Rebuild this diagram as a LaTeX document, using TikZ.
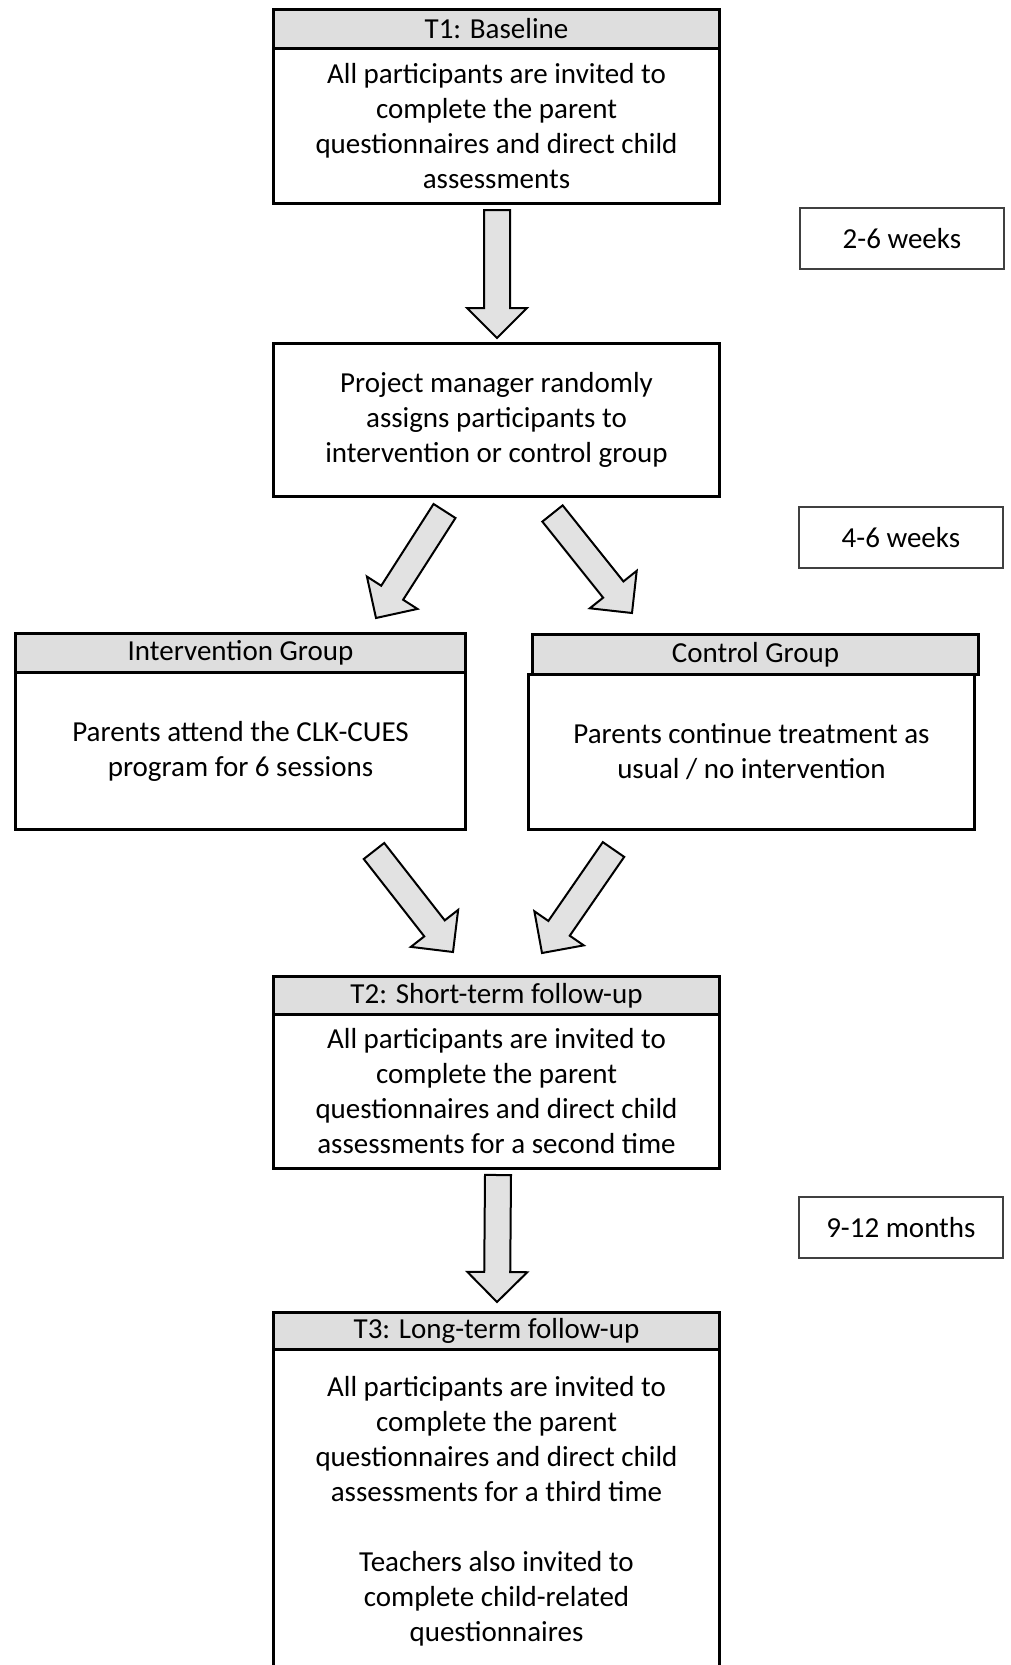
\documentclass[tikz,border=0pt]{standalone}
\usepackage{fontspec}
\setmainfont{Carlito}
\usetikzlibrary{calc}
\definecolor{hdrgray}{RGB}{222,222,222}
\definecolor{arrgray}{RGB}{226,226,226}
\newcommand{\blockarrow}[2]{%
  \coordinate (#1-b) at ($(#2)!15pt!(#1)$);
  \draw[barrow] ($(#1)!6.5pt!90:(#2)$) -- ($(#1-b)!6.5pt!90:(#2)$) -- ($(#1-b)!15pt!90:(#2)$) -- (#2)
     -- ($(#1-b)!15pt!-90:(#2)$) -- ($(#1-b)!6.5pt!-90:(#2)$) -- ($(#1)!6.5pt!-90:(#2)$) -- cycle;
}
\tikzset{
  txt/.style={font=\fontsize{14.5}{17.5}\selectfont},
  hdr/.style={txt, draw=black, line width=1.5pt, fill=hdrgray, inner sep=0pt, anchor=north west},
  bodybox/.style={txt, draw=black, line width=1.5pt, fill=white, inner sep=0pt, align=center, anchor=north west},
  lbl/.style={txt, draw=black!75, line width=0.9pt, fill=white, inner sep=0pt, anchor=north west,
              minimum width=102pt, minimum height=30.5pt},
  barrow/.style={draw=black, line width=1pt, fill=arrgray, line join=miter}
}
\begin{document}
\begin{tikzpicture}[x=0.5pt,y=-0.5pt]
\clip (0,0) rectangle (1011,1665);
\fill[white] (0,0) rectangle (1011,1665);

% T1
\node[bodybox, minimum width=223pt, minimum height=77.5pt] (t1b) at (272,47)
  {All participants are invited to\\complete the parent\\questionnaires and direct child\\assessments};
\node[hdr, minimum width=223pt, minimum height=19.5pt] (t1h) at (272,8) {T1: Baseline};

% Project manager
\node[bodybox, minimum width=223pt, minimum height=76.5pt] (pm) at (272,342)
  {Project manager randomly\\assigns participants to\\intervention or control group};

% Intervention
\node[bodybox, minimum width=225pt, minimum height=78.5pt] (ivb) at (14,671)
  {Parents attend the CLK-CUES\\program for 6 sessions};
\node[hdr, minimum width=225pt, minimum height=19.5pt] (ivh) at (14,632) {Intervention Group};

% Control
\node[bodybox, minimum width=223pt, minimum height=77.5pt] (cgb) at (527,673)
  {Parents continue treatment as\\usual / no intervention};
\node[hdr, minimum width=223pt, minimum height=20pt] (cgh) at (531,633) {Control Group};

% T2
\node[bodybox, minimum width=223pt, minimum height=77pt] (t2b) at (272,1013)
  {All participants are invited to\\complete the parent\\questionnaires and direct child\\assessments for a second time};
\node[hdr, minimum width=223pt, minimum height=19pt] (t2h) at (272,975) {T2: Short-term follow-up};

% T3
\node[bodybox, minimum width=223pt, minimum height=162pt] (t3b) at (272,1348)
  {All participants are invited to\\complete the parent\\questionnaires and direct child\\assessments for a third time\\[17.5pt]
   Teachers also invited to\\complete child-related\\questionnaires};
\node[hdr, minimum width=223pt, minimum height=18.5pt] (t3h) at (272,1311) {T3: Long-term follow-up};

% time labels
\node[lbl] (w1) at (799,207) {2-6 weeks};
\node[lbl] (w2) at (798,506) {4-6 weeks};
\node[lbl] (w3) at (798,1196) {9-12 months};

% block arrows
\coordinate (a1) at (497,210);   \coordinate (a1t) at (497,338);
\coordinate (a2) at (444.5,511); \coordinate (a2t) at (376,618);
\coordinate (a3) at (552.5,513.5); \coordinate (a3t) at (632,613);
\coordinate (a4) at (374,851);   \coordinate (a4t) at (453,952);
\coordinate (a5) at (613.5,849.5); \coordinate (a5t) at (542,953);
\coordinate (a6) at (498,1175);  \coordinate (a6t) at (497,1302);
\blockarrow{a1}{a1t}
\blockarrow{a2}{a2t}
\blockarrow{a3}{a3t}
\blockarrow{a4}{a4t}
\blockarrow{a5}{a5t}
\blockarrow{a6}{a6t}
\end{tikzpicture}
\end{document}
